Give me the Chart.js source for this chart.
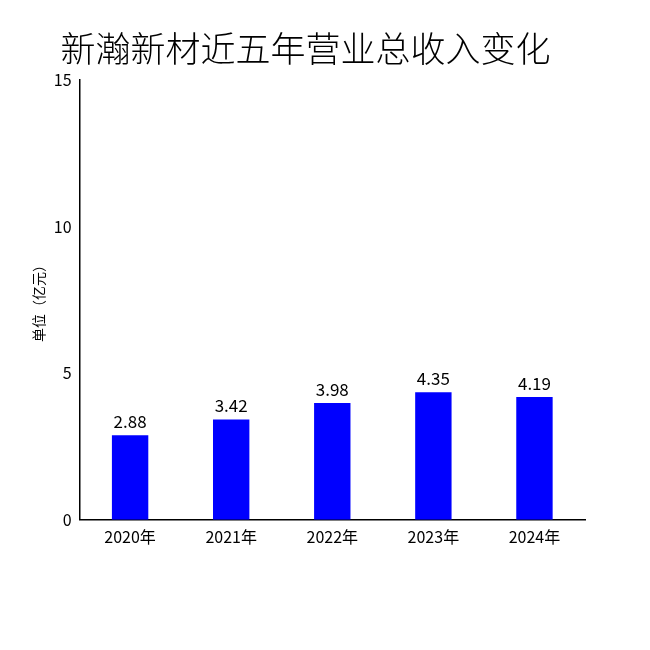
<!DOCTYPE html>
<html>
<head>
<meta charset="utf-8">
<script src="https://cdn.jsdelivr.net/npm/chart.js@4"></script>
<style>
  html, body { margin: 0; padding: 0; background: #fff; }
  #wrap { width: 650px; height: 650px; }
</style>
</head>
<body>
<div id="wrap"><canvas id="c"></canvas></div>
<script>
const years = ["2020年", "2021年", "2022年", "2023年", "2024年"];
const revenue = [2.88, 3.42, 3.98, 4.35, 4.19];
const yTicks = [0, 5, 10, 15];

const FONT = "'Liberation Sans Narrow', 'Noto Sans CJK SC', sans-serif";

// value labels above each bar
const barLabels = {
  id: "barLabels",
  afterDatasetsDraw(chart) {
    const ctx = chart.ctx;
    const meta = chart.getDatasetMeta(0);
    ctx.save();
    ctx.fillStyle = "#000";
    ctx.font = "17px " + FONT;
    ctx.textAlign = "center";
    ctx.textBaseline = "bottom";
    meta.data.forEach((bar, i) => {
      ctx.fillText(revenue[i].toFixed(2), bar.x, bar.y - 5);
    });
    ctx.restore();
  }
};

new Chart(document.getElementById("c"), {
  type: "bar",
  data: {
    labels: years,
    datasets: [{
      data: revenue,
      backgroundColor: "#0000ff",
      barPercentage: 0.36,
      categoryPercentage: 1.0
    }]
  },
  options: {
    responsive: true,
    maintainAspectRatio: false,
    animation: false,
    layout: { padding: { left: 26, right: 65, top: 0, bottom: 100 } },
    plugins: {
      legend: { display: false },
      tooltip: { enabled: false },
      title: {
        display: true,
        text: "新瀚新材近五年营业总收入变化",
        color: "#000",
        font: { family: "'Noto Sans CJK SC', sans-serif", size: 35, weight: 300 },
        padding: { top: 28, bottom: 10 }
      }
    },
    scales: {
      x: {
        grid: { display: false, drawTicks: true, tickLength: 5 },
        border: { color: "#000", width: 1.5 },
        ticks: { color: "#000", font: { family: FONT, size: 16 } }
      },
      y: {
        min: 0,
        max: 15,
        afterBuildTicks(axis) { axis.ticks = yTicks.map(v => ({ value: v })); },
        grid: { display: false, drawTicks: true, tickLength: 5 },
        border: { color: "#000", width: 1.5 },
        ticks: { color: "#000", font: { family: FONT, size: 16 } },
        title: {
          display: true,
          text: "单位（亿元）",
          color: "#000",
          font: { family: "'Noto Sans CJK SC', sans-serif", size: 14 }
        }
      }
    }
  },
  plugins: [barLabels]
});
</script>
</body>
</html>
